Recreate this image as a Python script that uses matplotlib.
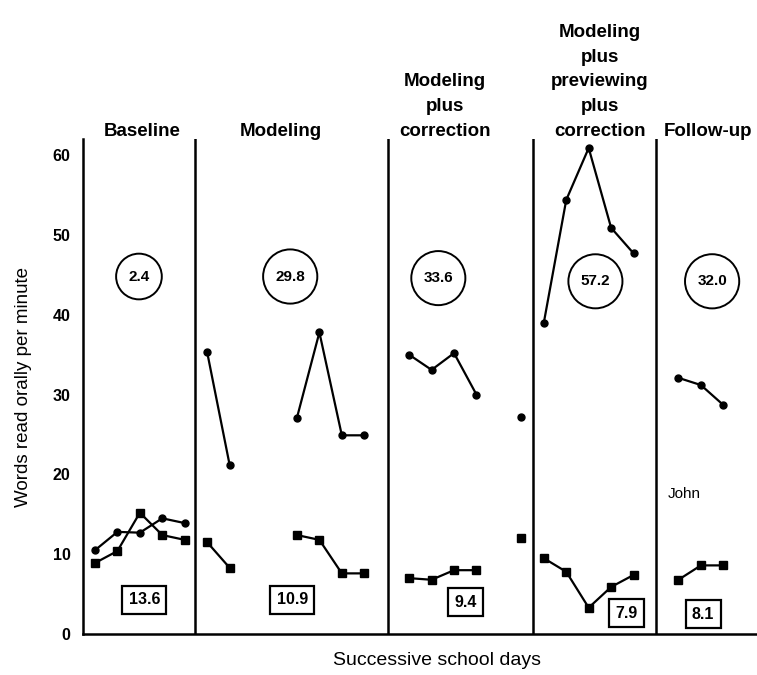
import numpy as np
import matplotlib
matplotlib.use("Agg")
import matplotlib.pyplot as plt

plt.rcParams['font.family'] = ['Liberation Sans', 'DejaVu Sans']

nan = np.nan
days = np.arange(1, 30)
# upper series (dots) and lower series (squares), one value per school day
upper = [10.5, 12.8, 12.7, 14.5, 13.9,
         35.3, 21.2, nan, nan, 27.1, 37.8, 24.9, 24.9,
         nan, 35.0, 33.1, 35.2, 30.0, nan, 27.2,
         39.0, 54.4, 60.9, 50.9, 47.7,
         nan, 32.1, 31.2, 28.7]
lower = [8.9, 10.4, 15.2, 12.4, 11.8,
         11.5, 8.3, nan, nan, 12.4, 11.8, 7.6, 7.6,
         nan, 7.0, 6.8, 8.0, 8.0, nan, 12.0,
         9.5, 7.8, 3.3, 5.9, 7.4,
         nan, 6.8, 8.6, 8.6]

phases = ["Baseline", "Modeling", "Modeling\nplus\ncorrection",
          "Modeling\nplus\npreviewing\nplus\ncorrection", "Follow-up"]
phase_start = [1, 6, 14, 21, 26]
phase_end = [5, 13, 20, 25, 29]
dividers = [5.46, 14.06, 20.5, 26.0]
circle_vals = ["2.4", "29.8", "33.6", "57.2", "32.0"]
box_vals = ["13.6", "10.9", "9.4", "7.9", "8.1"]

# label positions (day, value)
title_x = [3.1, 9.3, 16.6, 23.5, 28.3]
circle_x = [2.96, 9.7, 16.3, 23.3, 28.5]
circle_y = [44.8, 44.8, 44.6, 44.2, 44.2]
box_x = [3.2, 9.8, 17.5, 24.7, 28.1]
box_y = [4.3, 4.3, 4.0, 2.6, 2.5]

fig = plt.figure(figsize=(7.57, 6.75), dpi=100)
ax = fig.add_axes([0.1096, 0.0607, 0.8904, 0.733])

upper = np.array(upper)
lower = np.array(lower)
for s, e in zip(phase_start, phase_end):
    m = (days >= s) & (days <= e)
    ax.plot(days[m], upper[m], color='black', lw=1.6, marker='o', ms=5)
    ax.plot(days[m], lower[m], color='black', lw=1.6, marker='s', ms=5.5)

for d in dividers:
    ax.axvline(d, color='black', lw=1.8)

for i in range(5):
    ax.text(title_x[i], 61.9, phases[i], ha='center', va='bottom',
            multialignment='center', fontsize=13.5, fontweight='bold',
            linespacing=1.6, clip_on=False)
    ax.text(circle_x[i], circle_y[i], circle_vals[i], ha='center', va='center',
            fontsize=11, fontweight='bold',
            bbox=dict(boxstyle='circle,pad=0.8', fc='white', ec='black', lw=1.4))
    ax.text(box_x[i], box_y[i], box_vals[i], ha='center', va='center',
            fontsize=11.5, fontweight='bold',
            bbox=dict(boxstyle='square,pad=0.4', fc='white', ec='black', lw=1.6))

ax.text(26.5, 17.6, "John", ha='left', va='center', fontsize=11)

ax.set_xlim(0.465, 30.5)
ax.set_ylim(0, 62)
ax.set_yticks([0, 10, 20, 30, 40, 50, 60])
ax.set_xticks([])
ax.tick_params(axis='y', length=0, pad=9, labelsize=11.5)
for lab in ax.get_yticklabels():
    lab.set_fontweight('bold')
ax.spines['top'].set_visible(False)
ax.spines['right'].set_visible(False)
ax.spines['left'].set_linewidth(1.8)
ax.spines['bottom'].set_linewidth(1.8)
ax.set_ylabel("Words read orally per minute", fontsize=13.5)
ax.set_xlabel("Successive school days", fontsize=14)
ax.yaxis.set_label_coords(-0.076, 0.5)
ax.xaxis.set_label_coords(0.525, -0.036)

fig.savefig("out.png", dpi=100)
